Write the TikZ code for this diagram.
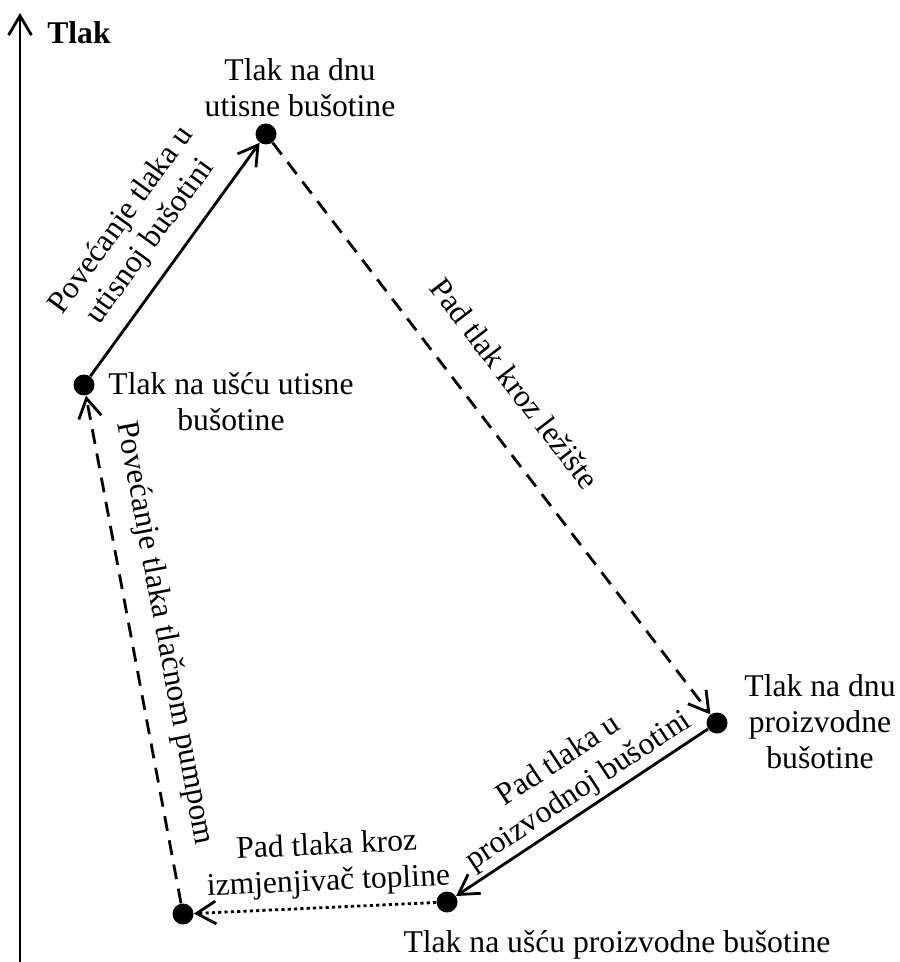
\documentclass[tikz,border=0pt]{standalone}
\usepackage{fontspec}
\setmainfont{Liberation Serif}
\usetikzlibrary{arrows.meta}
\begin{document}
\begin{tikzpicture}[x=0.02cm, y=-0.02cm,
		font=\fontsize{18}{20.5}\selectfont,
		pt/.style={circle, fill, inner sep=0pt, minimum size=0.42cm},
		barbhead/.style={-{Straight Barb[length=11pt, width=13pt, line width=1.6pt]}},
		arr/.style={barbhead, line width=1.6pt},
		dashline/.style={arr, dash pattern=on 8.5pt off 5.5pt},
		dotline/.style={arr, dash pattern=on 1.8pt off 1.8pt},
		lbl/.style={align=center, inner sep=1pt}]
		\useasboundingbox (0,0) rectangle (899,962);

		\coordinate (O) at (20,962);
		\coordinate (Y) at (20,13);
		\draw[barbhead, line width=1.7pt] (O) -- (Y);
		\node[font=\bfseries\fontsize{18}{20}\selectfont] (T) at (79,33) {Tlak};

		\node[pt] (A) at (84,385) {};
		\node[pt] (B) at (266,134) {};
		\node[pt] (C) at (717,723) {};
		\node[pt] (D) at (447,902) {};
		\node[pt] (E) at (183,914) {};

		\node[lbl] (LA) at (231,402) {Tlak na ušću utisne\\bušotine};
		\node[lbl] (LB) at (300,88) {Tlak na dnu\\utisne bušotine};
		\node[lbl] (LC) at (820,722) {Tlak na dnu\\proizvodne\\bušotine};
		\node[lbl] (LD) at (617,945) {Tlak na ušću proizvodne bušotine};

		\draw[arr] (A) -- node[lbl, sloped, above=7pt, pos=0.5] (PA) {Povećanje tlaka u\\utisnoj bušotini} (B);
		\draw[dashline] (B) -- node[lbl, sloped, above=18pt, pos=0.47] (PB) {Pad tlak kroz ležište} (C);
		\draw[arr] (C) -- node[lbl, sloped, above=1pt, pos=0.47] (PC) {Pad tlaka u\\proizvodnoj bušotini} (D);
		\draw[dotline] (D) -- node[lbl, sloped, above=4pt, pos=0.44] (PD) {Pad tlaka kroz\\izmjenjivač topline} (E);
		\draw[dashline] (E) -- node[lbl, sloped, above=9pt, pos=0.52] (PE) {Povećanje tlaka tlačnom pumpom} (A);

	\end{tikzpicture}
\end{document}
